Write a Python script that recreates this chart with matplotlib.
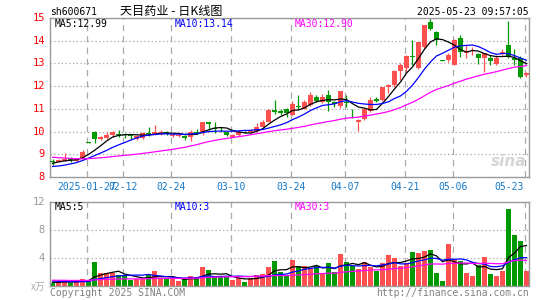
import numpy as np
import pandas as pd
import matplotlib
matplotlib.use('Agg')
import matplotlib.pyplot as plt
import matplotlib.transforms as mtransforms

# 일봉 데이터 (2025-01-17 ~ 2025-05-23, 80 거래일)
open_px = [8.70, 8.68, 8.72, 8.82, 8.70, 8.79, 9.52, 10.00, 9.66, 9.71,
           9.83, 9.90, 9.88, 9.86, 9.69, 9.73, 9.92, 9.87, 9.90, 10.00,
           9.80, 9.80, 9.82, 9.78, 9.97, 9.97, 10.40, 10.16, 10.12, 9.97,
           9.78, 9.83, 10.00, 9.97, 10.04, 10.22, 10.44, 10.97, 10.92, 11.00,
           10.75, 11.14, 11.00, 11.15, 11.54, 11.29, 11.63, 11.29, 11.12, 11.29,
           10.64, 10.44, 10.56, 10.92, 11.42, 11.40, 11.98, 12.03, 12.66, 12.82,
           13.32, 12.79, 13.71, 14.82, 14.38, 13.15, 13.13, 12.94, 14.11, 13.47,
           13.45, 13.42, 13.23, 13.26, 12.98, 13.47, 13.80, 13.24, 13.23, 12.50]
close_px = [8.66, 8.76, 8.80, 8.76, 8.80, 9.12, 9.50, 9.68, 9.76, 9.85,
            10.00, 9.85, 9.84, 9.81, 9.79, 9.94, 9.90, 9.97, 10.00, 9.90,
            9.86, 9.87, 9.72, 10.00, 9.93, 10.40, 10.32, 10.13, 10.10, 9.84,
            9.87, 9.97, 9.95, 10.03, 10.22, 10.44, 10.97, 10.85, 10.81, 10.80,
            11.22, 11.10, 11.29, 11.59, 11.36, 11.51, 11.29, 11.22, 11.78, 11.24,
            10.62, 10.53, 10.99, 11.39, 11.35, 11.95, 12.03, 12.66, 12.91, 13.32,
            13.29, 13.93, 14.67, 14.52, 14.01, 13.12, 13.38, 14.01, 13.52, 13.48,
            13.47, 13.23, 13.45, 13.11, 13.23, 13.51, 13.30, 13.15, 12.42, 12.57]
high_px = [8.80, 8.78, 9.07, 8.87, 8.84, 9.18, 9.52, 10.02, 9.80, 9.98,
           10.03, 10.08, 9.93, 9.89, 9.83, 9.98, 10.22, 10.27, 10.07, 10.02,
           9.88, 9.89, 9.84, 10.09, 10.10, 10.43, 10.44, 10.40, 10.19, 10.00,
           9.90, 10.07, 10.04, 10.11, 10.37, 10.50, 10.99, 11.37, 11.00, 11.02,
           11.33, 11.63, 11.41, 11.73, 11.63, 11.66, 11.81, 11.35, 11.80, 11.59,
           11.00, 10.55, 11.00, 11.51, 11.54, 11.98, 12.10, 12.69, 13.00, 13.35,
           14.01, 13.95, 14.69, 15.00, 14.42, 13.15, 13.47, 14.08, 14.26, 13.79,
           13.72, 13.47, 13.48, 13.35, 13.35, 13.64, 14.85, 13.64, 13.32, 12.64]
low_px = [8.55, 8.66, 8.70, 8.65, 8.68, 8.78, 9.50, 9.50, 9.62, 9.68,
          9.78, 9.76, 9.72, 9.68, 9.63, 9.68, 9.82, 9.83, 9.85, 9.85,
          9.76, 9.78, 9.65, 9.57, 9.90, 9.87, 10.09, 9.92, 10.00, 9.80,
          9.76, 9.80, 9.92, 9.95, 10.00, 10.20, 10.42, 10.78, 10.74, 10.65,
          10.72, 10.95, 10.98, 11.12, 11.30, 11.25, 10.90, 11.10, 11.05, 11.07,
          10.60, 10.04, 10.50, 10.88, 11.29, 11.35, 11.69, 11.95, 12.25, 12.61,
          12.91, 12.76, 13.68, 14.45, 13.83, 13.10, 13.05, 12.91, 13.27, 13.23,
          13.38, 12.98, 12.61, 12.94, 12.94, 13.38, 13.23, 12.91, 12.35, 12.42]
volume = [0.44, 0.44, 0.77, 0.44, 0.72, 0.96, 0.72, 3.39, 1.82, 1.82,
          1.85, 1.53, 1.39, 0.82, 0.91, 0.91, 1.67, 2.10, 0.91, 0.91,
          0.96, 0.72, 1.00, 1.43, 0.91, 2.72, 2.25, 1.20, 1.20, 1.20,
          0.82, 1.15, 0.52, 1.15, 1.53, 1.67, 2.72, 3.53, 1.96, 1.60,
          3.67, 2.82, 2.82, 2.48, 2.82, 1.77, 3.25, 1.96, 4.53, 3.39,
          2.82, 2.39, 3.39, 2.72, 2.15, 3.25, 4.39, 4.01, 2.82, 3.25,
          4.82, 4.67, 4.96, 5.10, 1.82, 0.67, 5.96, 3.63, 3.53, 1.82,
          1.43, 2.91, 4.10, 1.67, 1.39, 2.10, 10.96, 7.25, 6.39, 2.10]

# 이동평균 초기값용 이전 데이터 (왼쪽 끝 MA선 위치에서 추정)
prior_close = [9.35, 9.30, 9.28, 9.22, 9.25, 9.18, 9.15, 9.20, 9.12, 9.08,
               9.05, 9.10, 9.02, 8.98, 8.95, 8.92, 8.90, 8.85, 8.80, 8.78,
               8.55, 8.40, 8.25, 8.20, 8.22, 8.45, 8.58, 8.62, 8.70]
prior_volume = [0.90, 0.80, 1.00, 0.70, 0.90, 0.80, 0.85, 0.95, 0.75, 0.90,
                0.80, 0.85, 0.90, 0.70, 0.80, 0.95, 0.85, 0.80, 0.90, 0.85,
                0.90, 0.80, 0.85, 0.90, 0.80, 0.50, 0.45, 0.55, 0.50]

# 날짜 라벨 (해당 거래일 인덱스)
date_idx = [6, 12, 20, 30, 40, 49, 59, 67, 79]
date_labels = ['2025-01-27', '02-12', '02-24', '03-10', '03-24',
               '04-07', '04-21', '05-06', '05-23']
price_ticks = [8, 9, 10, 11, 12, 13, 14, 15]
vol_ticks = [4, 8, 12]
vol_ma_labels = ['MA5:5', 'MA10:3', 'MA30:3']

RED = '#FF5050'
GREEN = '#009900'
GRID = '#A8A8A8'
MONO = 'DejaVu Sans Mono'
CJK = ['Noto Sans CJK SC', 'DejaVu Sans']

W, H = 545, 300


def fpos(x, y):
    """픽셀 좌표 -> figure 좌표"""
    return x / W, 1 - y / H


def moving_average(values, prior, n):
    s = pd.Series(prior + values)
    return s.rolling(n).mean().iloc[len(prior):].values


n = len(close_px)
idx = np.arange(n)
o = np.array(open_px)
c = np.array(close_px)
up = c >= o
colors = np.where(up, RED, GREEN)

fig = plt.figure(figsize=(W / 100, H / 100), dpi=100)
fig.patch.set_facecolor('white')

x_lo, x_hi = -0.42, n - 1 + 0.42
ax = fig.add_axes([50 / W, 1 - 177 / H, 479 / W, 159 / H])
axv = fig.add_axes([50 / W, 1 - 285.7 / H, 479 / W, 83.7 / H])

for a in (ax, axv):
    a.set_xlim(x_lo, x_hi)
    a.set_xticks([])
    a.set_yticks([])
    for sp in a.spines.values():
        sp.set_color('#999999')
        sp.set_linewidth(1.0)
    for d in date_idx:
        a.axvline(d - 0.3, color=GRID, lw=0.9, ls=(0, (5, 4)), zorder=0)

# 가격 차트
ax.set_ylim(8, 15)
for t in price_ticks[1:-1]:
    ax.axhline(t, color=GRID, lw=0.9, ls=(0, (1, 2)), zorder=0)

ax.vlines(idx, low_px, high_px, colors=colors, lw=0.9, zorder=2)
body_bottom = np.minimum(o, c)
body_h = np.maximum(np.abs(c - o), 0.02)
ax.bar(idx, body_h, bottom=body_bottom, width=0.8, color=colors, linewidth=0, zorder=3)

ma5 = moving_average(close_px, prior_close, 5)
ma10 = moving_average(close_px, prior_close, 10)
ma30 = moving_average(close_px, prior_close, 30)
ax.plot(idx, ma5, color='black', lw=0.9, zorder=4)
ax.plot(idx, ma10, color='#0000FF', lw=0.9, zorder=4)
ax.plot(idx, ma30, color='#FF00FF', lw=0.9, zorder=4)

for t in price_ticks:
    ax.text(-5 / 479, t, str(t), transform=mtransforms.blended_transform_factory(ax.transAxes, ax.transData),
            ha='right', va='center', color='red', fontsize=7.5, family=MONO)

trans = mtransforms.blended_transform_factory(ax.transData, ax.transAxes)
for d, lab in zip(date_idx, date_labels):
    ha = 'right' if d == date_idx[-1] else 'center'
    xx = d - 0.3 if ha == 'center' else d - 0.45
    ax.text(xx, -10 / 159, lab, transform=trans, ha=ha, va='center',
            color='#1478C8', fontsize=7, family=MONO)

ax.text(5 / 479, 1 - 6 / 159, f'MA5:{ma5[-1]:.2f}', transform=ax.transAxes,
        ha='left', va='center', color='black', fontsize=7, family=MONO)
ax.text(125 / 479, 1 - 6 / 159, f'MA10:{ma10[-1]:.2f}', transform=ax.transAxes,
        ha='left', va='center', color='#0000FF', fontsize=7, family=MONO)
ax.text(245 / 479, 1 - 6 / 159, f'MA30:{ma30[-1]:.2f}', transform=ax.transAxes,
        ha='left', va='center', color='#FF00FF', fontsize=7, family=MONO)

# sina 워터마크
ax.text(0.995, 0.05, 'sina', transform=ax.transAxes, ha='right', va='bottom',
        color='#D5D5D5', fontsize=11, fontweight='bold', style='italic', zorder=1)

# 거래량 차트
axv.set_ylim(0, 12)
for t in vol_ticks[:-1]:
    axv.axhline(t, color=GRID, lw=0.9, ls=(0, (1, 2)), zorder=0)
axv.bar(idx, volume, width=0.83, color=colors, linewidth=0, zorder=2)

vma5 = moving_average(volume, prior_volume, 5)
vma10 = moving_average(volume, prior_volume, 10)
vma30 = moving_average(volume, prior_volume, 30)
axv.plot(idx, vma5, color='black', lw=0.9, zorder=3)
axv.plot(idx, vma10, color='#0000FF', lw=0.9, zorder=3)
axv.plot(idx, vma30, color='#FF00FF', lw=0.9, zorder=3)

vtrans = mtransforms.blended_transform_factory(axv.transAxes, axv.transData)
for t in vol_ticks:
    axv.text(-5 / 479, t, str(t), transform=vtrans, ha='right', va='center',
             color='#999999', fontsize=7.5, family=MONO)
fig.text(*fpos(45, 287), 'x万', ha='right', va='center', color='#AAAAAA',
         fontsize=7, family=CJK, style='italic')

for xoff, lab, col in zip([5, 125, 245], vol_ma_labels, ['black', '#0000FF', '#FF00FF']):
    axv.text(xoff / 479, 1 - 5 / 83.7, lab, transform=axv.transAxes, ha='left', va='center',
             color=col, fontsize=7, family=MONO)

# 상단/하단 텍스트
fig.text(*fpos(50, 12), 'sh600671', ha='left', va='center', color='black', fontsize=7, family=MONO)
fig.text(*fpos(120, 11), '天目药业 - 日K线图', ha='left', va='center', color='black',
         fontsize=8.7, family=CJK)
fig.text(*fpos(529, 12), '2025-05-23 09:57:05', ha='right', va='center', color='black',
         fontsize=7, family=MONO)
fig.text(*fpos(50, 292.5), 'Copyright 2025 SINA.COM', ha='left', va='center', color='#808080',
         fontsize=7, family=MONO)
fig.text(*fpos(529, 292.5), 'http://finance.sina.com.cn', ha='right', va='center', color='#808080',
         fontsize=7, family=MONO)

fig.savefig('out.png', dpi=100)
